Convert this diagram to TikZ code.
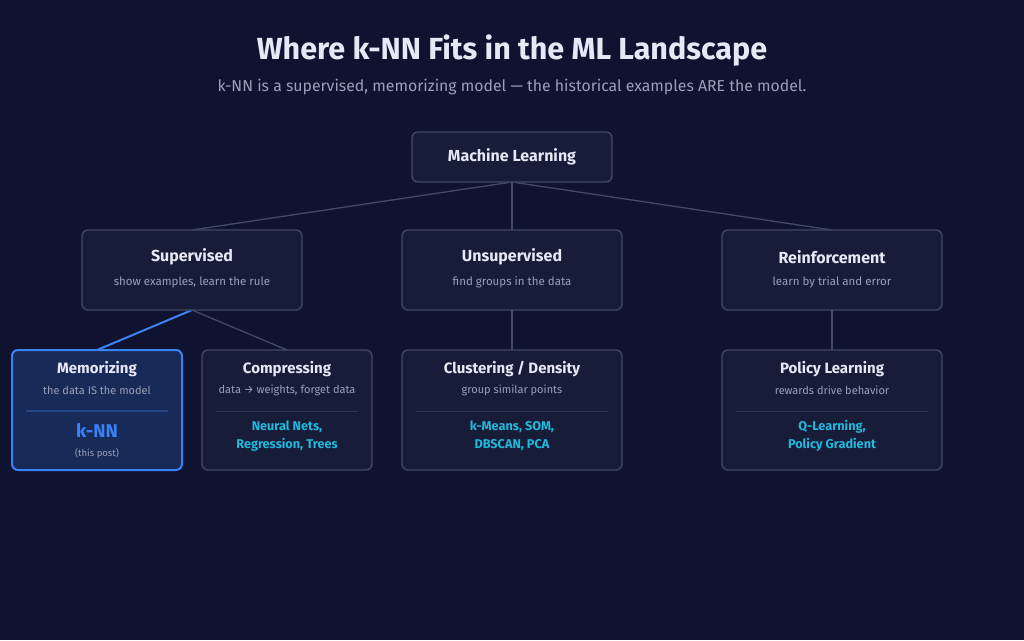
\documentclass[tikz,border=0pt]{standalone}
\usepackage{fontspec}
\setmainfont{Fira Sans}
\definecolor{bg}{HTML}{0F1330}
\definecolor{boxf}{HTML}{171C38}
\definecolor{boxd}{HTML}{414A66}
\definecolor{memf}{HTML}{172A58}
\definecolor{blue}{HTML}{3B82F6}
\definecolor{txt}{HTML}{E6E9F5}
\definecolor{sub}{HTML}{9AA0B8}
\definecolor{cyan}{HTML}{22B8DC}
\definecolor{sep}{HTML}{2C3452}
\definecolor{memsep}{HTML}{284682}
\begin{document}
\begin{tikzpicture}[x=1pt,y=-1pt,
 box/.style={draw=boxd,fill=boxf,rounded corners=6pt,line width=1.3pt},
 conn/.style={draw=boxd,line width=1.3pt},
 hd/.style={text=txt,font=\bfseries\fontsize{16}{18}\selectfont},
 hs/.style={text=txt,font=\bfseries\fontsize{15}{17}\selectfont},
 ds/.style={text=sub,font=\fontsize{11.5}{13}\selectfont},
 dsb/.style={text=sub,font=\fontsize{11}{13}\selectfont},
 ex/.style={text=cyan,font=\bfseries\fontsize{12.7}{18}\selectfont,align=center}]
\fill[bg] (0,0) rectangle (1024,640);
\node[text=txt,font=\bfseries\fontsize{30.5}{33}\selectfont] (title) at (512,51) {Where k-NN Fits in the ML Landscape};
\node[text=sub,font=\fontsize{15.8}{18}\selectfont] (subt) at (512,87) {k-NN is a supervised, memorizing model — the historical examples ARE the model.};
% connectors
\coordinate (mlb) at (512,182);
\coordinate (supt) at (192,230); \coordinate (unst) at (512,230); \coordinate (ret) at (832,230);
\coordinate (supb) at (192,310); \coordinate (memt) at (97,350); \coordinate (comt) at (287,350);
\coordinate (unsb) at (512,310); \coordinate (clut) at (512,350);
\coordinate (reb) at (832,310); \coordinate (polt) at (832,350);
\draw[conn] (mlb)--(supt); \draw[conn] (mlb)--(unst); \draw[conn] (mlb)--(ret);
\draw[conn] (supb)--(comt); \draw[conn] (unsb)--(clut); \draw[conn] (reb)--(polt);
\draw[blue,line width=2pt] (supb)--(memt);
% top
\draw[box] (412,132) rectangle (612,182);
\node[hd] (ml) at (512,157) {Machine Learning};
\draw[box] (82,230) rectangle (302,310);
\draw[box] (402,230) rectangle (622,310);
\draw[box] (722,230) rectangle (942,310);
\node[hd] (sup) at (192,257) {Supervised};
\node[ds] (supd) at (192,282) {show examples, learn the rule};
\node[hd] (uns) at (512,257) {Unsupervised};
\node[ds] (unsd) at (512,282) {find groups in the data};
\node[hd] (rei) at (832,257) {Reinforcement};
\node[ds] (reid) at (832,282) {learn by trial and error};
% bottom boxes
\draw[draw=blue,fill=memf,rounded corners=6pt,line width=2pt] (12,350) rectangle (182,470);
\draw[box] (202,350) rectangle (372,470);
\draw[box] (402,350) rectangle (622,470);
\draw[box] (722,350) rectangle (942,470);
\draw[memsep,line width=1.2pt] (26,411)--(168,411);
\draw[sep,line width=1pt] (216,411)--(358,411);
\draw[sep,line width=1pt] (416,411)--(608,411);
\draw[sep,line width=1pt] (736,411)--(928,411);
\node[hs] (mem) at (97,369) {Memorizing};
\node[dsb] (memd) at (97,390) {the data IS the model};
\node[text=blue,font=\bfseries\fontsize{18.5}{20}\selectfont] (knn) at (97,430) {k-NN};
\node[dsb,font=\fontsize{9.5}{11}\selectfont] (post) at (97,453) {(this post)};
\node[hs] (com) at (287,369) {Compressing};
\node[dsb] (comd) at (287,390) {data → weights, forget data};
\node[ex] (come) at (287,436) {Neural Nets,\\Regression, Trees};
\node[hs] (clu) at (512,369) {Clustering / Density};
\node[dsb] (clud) at (512,390) {group similar points};
\node[ex] (clue) at (512,436) {k-Means, SOM,\\DBSCAN, PCA};
\node[hs] (pol) at (832,369) {Policy Learning};
\node[dsb] (pold) at (832,390) {rewards drive behavior};
\node[ex] (pole) at (832,436) {Q-Learning,\\Policy Gradient};
\end{tikzpicture}
\end{document}
